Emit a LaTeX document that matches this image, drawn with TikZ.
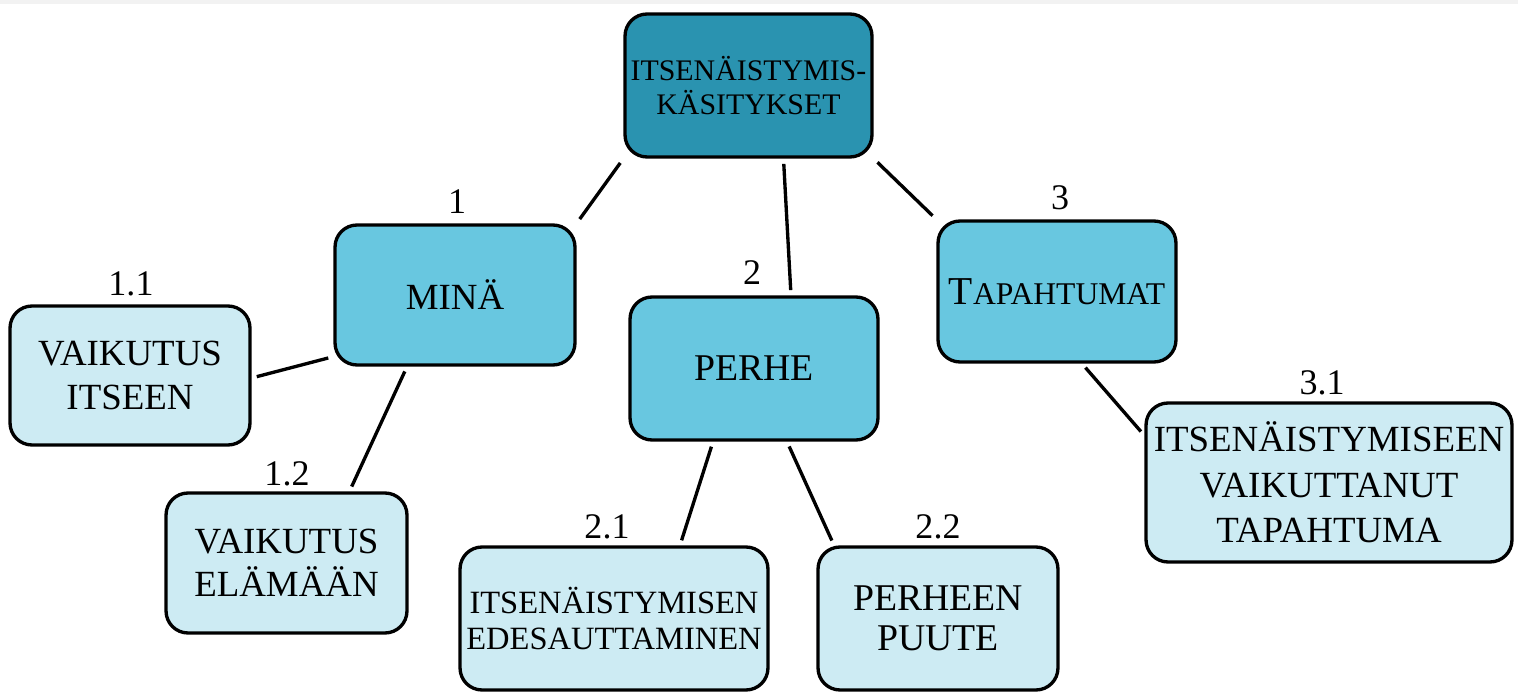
\documentclass[tikz,border=0pt]{standalone}
\usepackage{fontspec}
\setmainfont{Liberation Serif}
\definecolor{rootcol}{RGB}{42,147,176}
\definecolor{themecol}{RGB}{104,199,224}
\definecolor{subcol}{RGB}{205,235,243}
\tikzset{
every picture/.style={
line width=1.9pt
}}

\begin{document}
\begin{tikzpicture}[x=0.02cm, y=-0.02cm,
box/.style = {rectangle, rounded corners=0.44cm, draw=black, line width=1.9pt, align=center, inner sep=0pt, font=\fontsize{21}{24.6}\selectfont},
root/.style = {box, fill=rootcol, font=\fontsize{17}{18.9}\selectfont},
theme/.style = {box, fill=themecol},
sub/.style = {box, fill=subcol},
num/.style = {inner sep=0pt, font=\fontsize{20.5}{24}\selectfont},
link/.style = {black, line width=1.9pt, shorten <=3pt, shorten >=3pt}]
\useasboundingbox (0,0) rectangle (1518,695);
\fill[gray!10] (0,0) rectangle (1518,4);

\node[root, minimum width=4.94cm, minimum height=2.86cm] (top) at (748.5,85.5) {ITSENÄISTYMIS-\\KÄSITYKSET};

\node[theme, minimum width=4.8cm, minimum height=2.8cm] (mina) at (455,295) {MINÄ};
\node[theme, minimum width=4.96cm, minimum height=2.86cm, font=\fontsize{21.5}{24}\selectfont] (perhe) at (754,368.5) {PERHE};
\node[theme, minimum width=4.76cm, minimum height=2.82cm, font=\fontsize{18}{22}\selectfont] (tap) at (1057,291.5) {{\fontsize{22.5}{24}\selectfont T}APAHTUMAT};

\node[sub, minimum width=4.8cm, minimum height=2.78cm] (itseen) at (130,375.5) {VAIKUTUS\\ITSEEN};
\node[sub, minimum width=4.82cm, minimum height=2.8cm] (elamaan) at (286.5,563) {VAIKUTUS\\ELÄMÄÄN};
\node[sub, minimum width=6.16cm, minimum height=2.86cm, font=\fontsize{18.5}{21}\selectfont] (edes) at (614,618.5) {ITSENÄISTYMISEN\\EDESAUTTAMINEN};
\node[sub, minimum width=4.8cm, minimum height=2.86cm, font=\fontsize{21.5}{23}\selectfont] (puute) at (938,618.5) {PERHEEN\\PUUTE};
\node[sub, minimum width=7.32cm, minimum height=3.18cm, font=\fontsize{21}{26}\selectfont] (vtap) at (1329,482.5) {ITSENÄISTYMISEEN\\VAIKUTTANUT\\TAPAHTUMA};

\node[num] (n1) at (457,202) {1};
\node[num] (n2) at (752,273) {2};
\node[num] (n3) at (1060,198) {3};
\node[num] (n11) at (131,284) {1.1};
\node[num] (n12) at (287,474) {1.2};
\node[num] (n21) at (607,527) {2.1};
\node[num] (n22) at (938,527) {2.2};
\node[num] (n31) at (1322,383) {3.1};

\draw[link] (top.south west) -- (mina.north east);
\draw[link] ([xshift=0.7cm]top.south) -- ([xshift=0.74cm]perhe.north);
\draw[link] (top.south east) -- (tap.north west);
\draw[link] ([yshift=0.2cm]mina.south west) -- ([yshift=-0.05cm]itseen.east);
\draw[link] ([xshift=-0.96cm]mina.south) -- ([xshift=1.26cm]elamaan.north);
\draw[link] ([xshift=-0.82cm]perhe.south) -- ([xshift=1.32cm]edes.north);
\draw[link] ([xshift=0.66cm]perhe.south) -- ([xshift=-2.08cm]puute.north);
\draw[link] ([xshift=0.5cm]tap.south) -- ([yshift=0.94cm]vtap.west);
\end{tikzpicture}
\end{document}
